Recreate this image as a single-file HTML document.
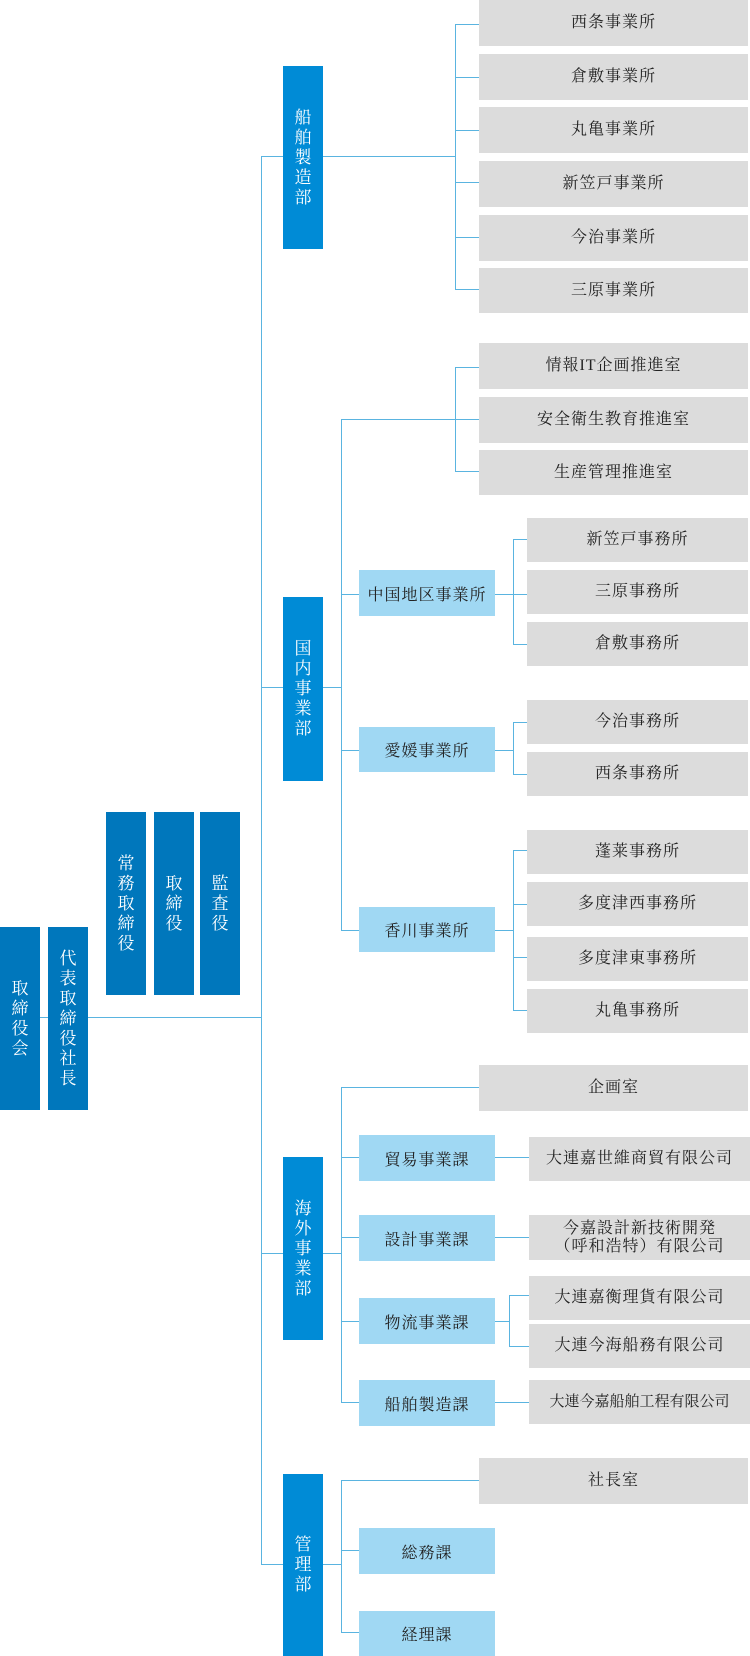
<!DOCTYPE html>
<html><head><meta charset="utf-8"><style>
body{margin:0;width:750px;height:1656px;position:relative;background:#fff;overflow:hidden;font-family:"Liberation Serif","Noto Serif CJK SC","Noto Sans CJK JP",serif;}
div{position:absolute;box-sizing:border-box;}
.l{background:#5ab4e0;}
.h{height:1px;}
.v{width:1px;}
.g{background:#dcdcdc;color:#222;font-size:16px;display:flex;align-items:center;justify-content:center;text-align:center;line-height:18px;letter-spacing:1px;}
.c{background:#a0d8f3;color:#222;font-size:16px;display:flex;align-items:center;justify-content:center;letter-spacing:1px;}
.d{background:#008bd6;color:#fff;font-size:17px;display:flex;align-items:center;justify-content:center;line-height:20px;text-align:center;width:40px;}
.e{background:#0077bc;color:#fff;font-size:17px;display:flex;align-items:center;justify-content:center;line-height:20px;text-align:center;width:40px;height:183px;}
</style></head><body>
<div class="l h" style="left:40px;top:1017px;width:221px"></div>
<div class="l v" style="left:261px;top:156px;height:1409px"></div>
<div class="l h" style="left:261px;top:156px;width:194px"></div>
<div class="l v" style="left:455px;top:24px;height:265px"></div>
<div class="l h" style="left:455px;top:24px;width:24px"></div>
<div class="l h" style="left:455px;top:77px;width:24px"></div>
<div class="l h" style="left:455px;top:130px;width:24px"></div>
<div class="l h" style="left:455px;top:182px;width:24px"></div>
<div class="l h" style="left:455px;top:237px;width:24px"></div>
<div class="l h" style="left:455px;top:289px;width:24px"></div>

<div class="l h" style="left:261px;top:687px;width:80px"></div>
<div class="l v" style="left:341px;top:419px;height:512px"></div>
<div class="l h" style="left:341px;top:419px;width:138px"></div>
<div class="l v" style="left:455px;top:367px;height:105px"></div>
<div class="l h" style="left:455px;top:367px;width:24px"></div>
<div class="l h" style="left:455px;top:471px;width:24px"></div>
<div class="l h" style="left:341px;top:594px;width:186px"></div>
<div class="l v" style="left:513px;top:539px;height:106px"></div>
<div class="l h" style="left:513px;top:539px;width:14px"></div>
<div class="l h" style="left:513px;top:644px;width:14px"></div>
<div class="l h" style="left:341px;top:750px;width:172px"></div>
<div class="l v" style="left:513px;top:722px;height:53px"></div>
<div class="l h" style="left:513px;top:722px;width:14px"></div>
<div class="l h" style="left:513px;top:774px;width:14px"></div>
<div class="l h" style="left:341px;top:930px;width:172px"></div>
<div class="l v" style="left:513px;top:850px;height:161px"></div>
<div class="l h" style="left:513px;top:850px;width:14px"></div>
<div class="l h" style="left:513px;top:904px;width:14px"></div>
<div class="l h" style="left:513px;top:957px;width:14px"></div>
<div class="l h" style="left:513px;top:1010px;width:14px"></div>

<div class="l h" style="left:261px;top:1253px;width:80px"></div>
<div class="l v" style="left:341px;top:1087px;height:316px"></div>
<div class="l h" style="left:341px;top:1087px;width:138px"></div>
<div class="l h" style="left:341px;top:1157px;width:188px"></div>
<div class="l h" style="left:341px;top:1237px;width:188px"></div>
<div class="l h" style="left:341px;top:1321px;width:168px"></div>
<div class="l v" style="left:509px;top:1295px;height:52px"></div>
<div class="l h" style="left:509px;top:1295px;width:20px"></div>
<div class="l h" style="left:509px;top:1346px;width:20px"></div>
<div class="l h" style="left:341px;top:1402px;width:188px"></div>

<div class="l h" style="left:261px;top:1564px;width:80px"></div>
<div class="l v" style="left:341px;top:1480px;height:153px"></div>
<div class="l h" style="left:341px;top:1480px;width:138px"></div>
<div class="l h" style="left:341px;top:1550px;width:18px"></div>
<div class="l h" style="left:341px;top:1632px;width:18px"></div>

<div class="e" style="left:0;top:927px;">取<br>締<br>役<br>会</div>
<div class="e" style="left:48px;top:927px;">代<br>表<br>取<br>締<br>役<br>社<br>長</div>
<div class="e" style="left:106px;top:812px;">常<br>務<br>取<br>締<br>役</div>
<div class="e" style="left:154px;top:812px;">取<br>締<br>役</div>
<div class="e" style="left:200px;top:812px;">監<br>査<br>役</div>

<div class="d" style="left:283px;top:66px;height:183px">船<br>舶<br>製<br>造<br>部</div>
<div class="d" style="left:283px;top:597px;height:184px">国<br>内<br>事<br>業<br>部</div>
<div class="d" style="left:283px;top:1157px;height:183px">海<br>外<br>事<br>業<br>部</div>
<div class="d" style="left:283px;top:1474px;height:182px">管<br>理<br>部</div>

<div class="g" style="left:479px;top:0;width:269px;height:46px">西条事業所</div>
<div class="g" style="left:479px;top:54px;width:269px;height:46px">倉敷事業所</div>
<div class="g" style="left:479px;top:107px;width:269px;height:46px">丸亀事業所</div>
<div class="g" style="left:479px;top:161px;width:269px;height:46px">新笠戸事業所</div>
<div class="g" style="left:479px;top:215px;width:269px;height:46px">今治事業所</div>
<div class="g" style="left:479px;top:268px;width:269px;height:45px">三原事業所</div>
<div class="g" style="left:479px;top:343px;width:269px;height:46px">情報IT企画推進室</div>
<div class="g" style="left:479px;top:397px;width:269px;height:46px">安全衛生教育推進室</div>
<div class="g" style="left:479px;top:450px;width:269px;height:45px">生産管理推進室</div>
<div class="g" style="left:527px;top:518px;width:221px;height:44px">新笠戸事務所</div>
<div class="g" style="left:527px;top:570px;width:221px;height:44px">三原事務所</div>
<div class="g" style="left:527px;top:622px;width:221px;height:44px">倉敷事務所</div>
<div class="g" style="left:527px;top:700px;width:221px;height:44px">今治事務所</div>
<div class="g" style="left:527px;top:752px;width:221px;height:44px">西条事務所</div>
<div class="g" style="left:527px;top:830px;width:221px;height:44px">蓬莱事務所</div>
<div class="g" style="left:527px;top:882px;width:221px;height:44px">多度津西事務所</div>
<div class="g" style="left:527px;top:937px;width:221px;height:44px">多度津東事務所</div>
<div class="g" style="left:527px;top:989px;width:221px;height:44px">丸亀事務所</div>
<div class="g" style="left:479px;top:1065px;width:269px;height:46px">企画室</div>
<div class="g" style="left:529px;top:1137px;width:221px;height:44px">大連嘉世維商貿有限公司</div>
<div class="g" style="left:529px;top:1215px;width:221px;height:45px">今嘉設計新技術開発<br>（呼和浩特）有限公司</div>
<div class="g" style="left:529px;top:1276px;width:221px;height:44px">大連嘉衡理貨有限公司</div>
<div class="g" style="left:529px;top:1324px;width:221px;height:44px">大連今海船務有限公司</div>
<div class="g" style="left:529px;top:1380px;width:221px;height:44px;letter-spacing:0;font-size:15px">大連今嘉船舶工程有限公司</div>
<div class="g" style="left:479px;top:1458px;width:269px;height:46px">社長室</div>

<div class="c" style="left:359px;top:570px;width:136px;height:46px">中国地区事業所</div>
<div class="c" style="left:359px;top:727px;width:136px;height:45px">愛媛事業所</div>
<div class="c" style="left:359px;top:907px;width:136px;height:45px">香川事業所</div>
<div class="c" style="left:359px;top:1135px;width:136px;height:46px">貿易事業課</div>
<div class="c" style="left:359px;top:1215px;width:136px;height:46px">設計事業課</div>
<div class="c" style="left:359px;top:1298px;width:136px;height:46px">物流事業課</div>
<div class="c" style="left:359px;top:1380px;width:136px;height:46px">船舶製造課</div>
<div class="c" style="left:359px;top:1528px;width:136px;height:46px">総務課</div>
<div class="c" style="left:359px;top:1611px;width:136px;height:45px">経理課</div>
</body></html>
